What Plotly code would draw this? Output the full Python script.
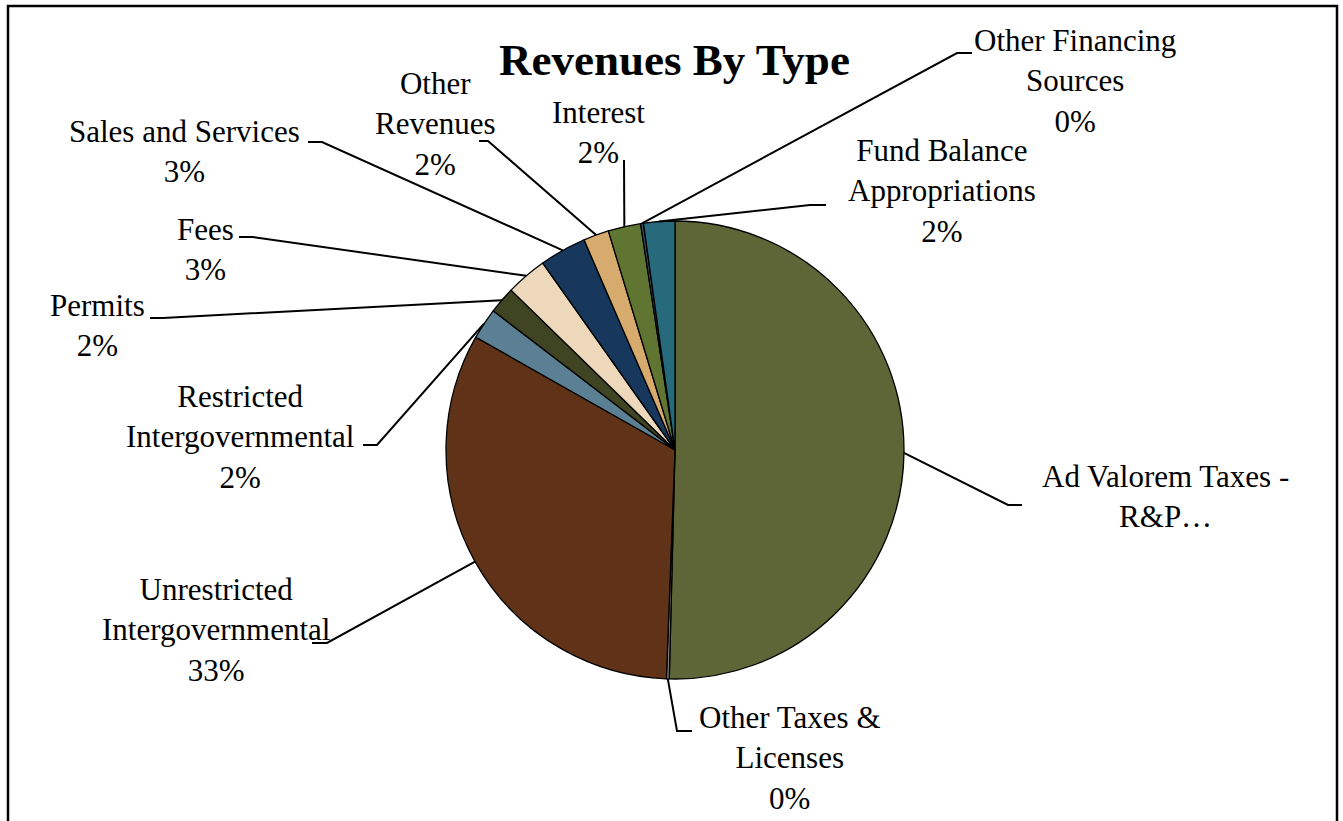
import math
import plotly.graph_objects as go

W, H = 1343, 821

# Revenue categories, clockwise from 12 o'clock
categories = [
    "Ad Valorem Taxes - R&P…",
    "Other Taxes & Licenses",
    "Unrestricted Intergovernmental",
    "Restricted Intergovernmental",
    "Permits",
    "Fees",
    "Sales and Services",
    "Other Revenues",
    "Interest",
    "Other Financing Sources",
    "Fund Balance Appropriations",
]
# Share of total revenues (percent)
values = [50.4, 0.2, 32.6, 2.2, 1.9, 2.9, 3.3, 1.8, 2.3, 0.2, 2.2]

# Label text lines (category name split across lines)
label_lines = [
    ["Ad Valorem Taxes -", "R&P…"],
    ["Other Taxes &", "Licenses"],
    ["Unrestricted", "Intergovernmental"],
    ["Restricted", "Intergovernmental"],
    ["Permits"],
    ["Fees"],
    ["Sales and Services"],
    ["Other", "Revenues"],
    ["Interest"],
    ["Other Financing", "Sources"],
    ["Fund Balance", "Appropriations"],
]
show_percent = [False] + [True] * 10

colors = ["#5E6536", "#7F7F7F", "#603318", "#5B8093", "#3F4423", "#EDD8BC",
          "#17375D", "#D7AA6E", "#617532", "#3B4A5C", "#276A7C"]

# Label block centres (pixels) and leader-line bend points
label_pos = [(1165, 497), (790, 758), (216, 630), (240, 437), (97, 325), (205, 249),
             (185, 151), (435, 124), (598, 132), (1075, 81), (942, 191)]
leader_bends = [
    [(1008, 505), (1022, 505)],
    [(677, 731), (692, 731)],
    [(327, 643), (312, 643)],
    [(377, 445), (363, 445)],
    [(163, 318), (150, 318)],
    [(253, 237), (239, 237)],
    [(322, 142), (308, 142)],
    [(488, 141), (479, 141)],
    [(624, 160)],
    [(957, 53), (972, 53)],
    [(810, 205), (826, 205)],
]

# Pie placement in pixels
CX, CY, R = 675, 450, 229

SERIF = "Liberation Serif, Times New Roman, serif"


def px(x):
    return x / W


def py(y):
    return 1 - y / H


fig = go.Figure()
fig.add_trace(go.Pie(
    labels=categories,
    values=values,
    sort=False,
    direction="clockwise",
    rotation=0,
    textinfo="none",
    hoverinfo="label+percent",
    marker=dict(colors=colors, line=dict(color="black", width=1.3)),
    domain=dict(x=[px(CX - R), px(CX + R)], y=[py(CY + R), py(CY - R)]),
    showlegend=False,
))

total = sum(values)
shapes = []
annotations = []
cum = 0.0
for i, v in enumerate(values):
    mid = (cum + v / 2) / total * 2 * math.pi
    cum += v
    ax = CX + R * math.sin(mid)
    ay = CY - R * math.cos(mid)
    pts = [(ax, ay)] + leader_bends[i]
    path = "M " + " L ".join(f"{px(x):.5f},{py(y):.5f}" for x, y in pts)
    shapes.append(dict(type="path", path=path, xref="paper", yref="paper",
                       line=dict(color="black", width=2)))
    lines = list(label_lines[i])
    if show_percent[i]:
        lines.append(f"{v / total * 100:.0f}%")
    lx, ly = label_pos[i]
    annotations.append(dict(
        text="<br>".join(lines), x=px(lx), y=py(ly), xref="paper", yref="paper",
        xanchor="center", yanchor="middle", align="center", showarrow=False,
        font=dict(family=SERIF, size=31, color="black"),
    ))

annotations.append(dict(
    text="<b>Revenues By Type</b>", x=px(675), y=py(60), xref="paper", yref="paper",
    xanchor="center", yanchor="middle", showarrow=False,
    font=dict(family=SERIF, size=45, color="black"),
))

# Chart-area frame
shapes.append(dict(type="rect", xref="paper", yref="paper",
                   x0=px(8), x1=px(1337), y0=py(840), y1=py(6),
                   line=dict(color="black", width=2.5)))

fig.update_layout(
    width=W, height=H,
    margin=dict(l=0, r=0, t=0, b=0),
    paper_bgcolor="white", plot_bgcolor="white",
    shapes=shapes, annotations=annotations,
)

fig.write_html("out.html")
